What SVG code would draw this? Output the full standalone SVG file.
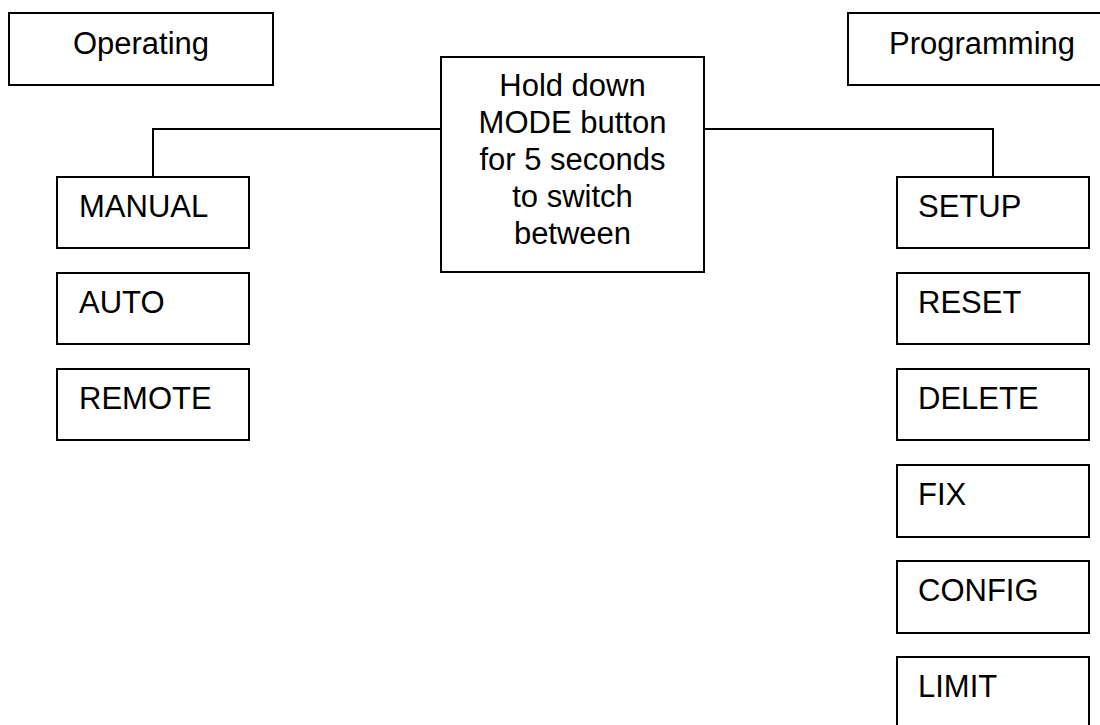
<svg xmlns="http://www.w3.org/2000/svg" width="1100" height="725" viewBox="0 0 1100 725">
<style>
.box{fill:#fff;stroke:#000;stroke-width:2}
.t{font-family:"Liberation Sans",Arial,sans-serif;font-size:31px;fill:#000}
.c{text-anchor:middle}
.conn{fill:none;stroke:#000;stroke-width:2}
</style>
<rect width="1100" height="725" fill="#fff"/>
<g id="connectors">
<path class="conn" d="M441,129 H153 V177"/>
<path class="conn" d="M704,129 H993 V177"/>
</g>
<g id="operating"><rect class="box" x="9" y="13" width="264" height="72"/><text class="t c" x="141" y="54">Operating</text></g>
<g id="programming"><rect class="box" x="848" y="13" width="268" height="72"/><text class="t c" x="982" y="54">Programming</text></g>
<g id="center"><rect class="box" x="441" y="57" width="263" height="215"/>
<text class="t c" x="572.5" y="96">Hold down</text>
<text class="t c" x="572.5" y="133">MODE button</text>
<text class="t c" x="572.5" y="170">for 5 seconds</text>
<text class="t c" x="572.5" y="207">to switch</text>
<text class="t c" x="572.5" y="244">between</text></g>
<g id="manual"><rect class="box" x="57" y="177" width="192" height="71"/><text class="t" x="79" y="217">MANUAL</text></g>
<g id="auto"><rect class="box" x="57" y="273" width="192" height="71"/><text class="t" x="79" y="313">AUTO</text></g>
<g id="remote"><rect class="box" x="57" y="369" width="192" height="71"/><text class="t" x="79" y="409">REMOTE</text></g>
<g id="setup"><rect class="box" x="897" y="177" width="192" height="71"/><text class="t" x="918" y="217">SETUP</text></g>
<g id="reset"><rect class="box" x="897" y="273" width="192" height="71"/><text class="t" x="918" y="313">RESET</text></g>
<g id="delete"><rect class="box" x="897" y="369" width="192" height="71"/><text class="t" x="918" y="409">DELETE</text></g>
<g id="fix"><rect class="box" x="897" y="465" width="192" height="72"/><text class="t" x="918" y="505">FIX</text></g>
<g id="config"><rect class="box" x="897" y="561" width="192" height="72"/><text class="t" x="918" y="601">CONFIG</text></g>
<g id="limit"><rect class="box" x="897" y="657" width="192" height="72"/><text class="t" x="918" y="697">LIMIT</text></g>
</svg>
